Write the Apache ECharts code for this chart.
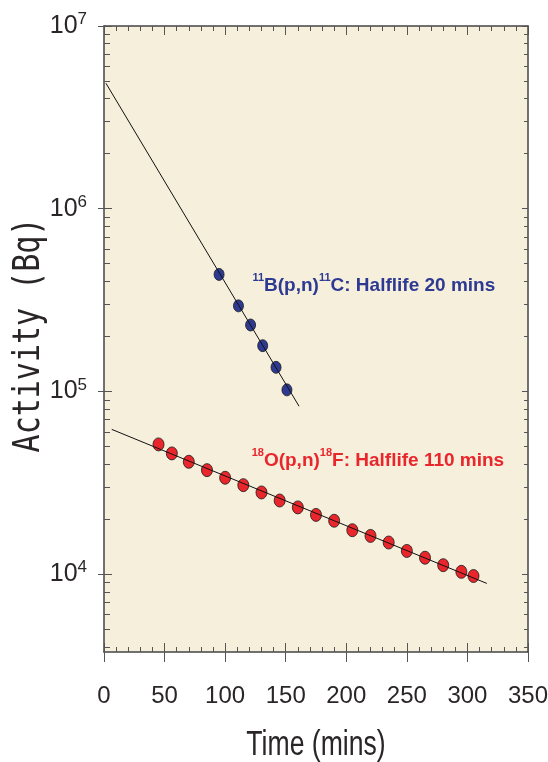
<!DOCTYPE html>
<html><head><meta charset="utf-8">
<script src="https://cdn.jsdelivr.net/npm/echarts@6/dist/echarts.min.js"></script>
<style>html,body{margin:0;padding:0;background:#fff}#c{width:548px;height:762px}</style>
</head><body><div id="c"></div>
<script>
// ---- data ----
const c11Time = [95, 111, 121, 131, 142, 151];
const c11Activity = [437000, 294000, 231000, 178000, 135500, 102000];
const f18Time = [45, 56, 70, 85, 100, 115, 130, 145, 160, 175, 190, 205, 220, 235, 250, 265, 280, 295, 305];
const f18Activity = [51300, 45800, 41200, 37100, 33700, 30700, 28000, 25300, 23200, 21100, 19600, 17400, 16200, 14900, 13400, 12300, 11200, 10300, 9770];
const c11FitTime = [1.6, 161];
const c11FitActivity = [4860000, 83000];
const f18FitTime = [6.4, 316];
const f18FitActivity = [62000, 8900];
const xTickLabels = ['0', '50', '100', '150', '200', '250', '300', '350'];
const yTickExponents = [4, 5, 6, 7];
const yMinorMultipliers = [2, 3, 4, 5, 6, 7, 8, 9];
const yMinActivity = 3750;
const yMaxActivity = 1e7;
const c11Label = ['11', 'B(p,n)', '11', 'C: Halflife 20 mins'];
const f18Label = ['18', 'O(p,n)', '18', 'F: Halflife 110 mins'];
const c11LabelAnchor = [122.5, 377000];
const f18LabelAnchor = [121.9, 41500];

const L = Math.log10;
const yMin = L(yMinActivity), yMax = L(yMaxActivity);
const yMinorTicks = [];
for (let e = 3; e < 7; e++) for (const m of yMinorMultipliers) {
  const v = L(m * Math.pow(10, e));
  if (v >= yMin && v <= yMax) yMinorTicks.push(v);
}
const pair = (xs, ys) => xs.map((x, i) => [x, L(ys[i])]);

const BLUE = '#2E3A92', RED = '#E8262B', INK = '#2a2627', AX = '#444';
const baseX = {type: 'value', min: 0, max: 350, interval: 50, splitLine: {show: false}};
const baseY = {type: 'value', min: yMin, max: yMax, splitLine: {show: false}};

const option = {
  animation: false,
  grid: {left: 104, right: 20, top: 26, bottom: 110, show: true, backgroundColor: '#F5EFDC', borderWidth: 0, containLabel: false, outerBoundsMode: 'none'},
  xAxis: [
    Object.assign({}, baseX, {position: 'bottom', axisLine: {show: true, lineStyle: {color: AX, width: 1.5}},
      axisTick: {show: true, inside: false, length: 10, lineStyle: {color: '#555'}},
      axisLabel: {show: true, margin: 32, fontSize: 24, color: INK, fontFamily: '"Liberation Sans", Arial, sans-serif',
        formatter: v => xTickLabels[Math.round(v / 50)]}}),
    Object.assign({}, baseX, {position: 'bottom', axisLine: {show: false},
      axisTick: {show: true, inside: true, length: 9, lineStyle: {color: '#555'}},
      minorTick: {show: true, splitNumber: 5, length: 5, lineStyle: {color: '#555'}}, axisLabel: {show: false}}),
    Object.assign({}, baseX, {position: 'top', axisLine: {show: true, lineStyle: {color: AX, width: 1.5}},
      axisTick: {show: true, inside: true, length: 9, lineStyle: {color: '#555'}},
      minorTick: {show: true, splitNumber: 5, length: 5, lineStyle: {color: '#555'}}, axisLabel: {show: false}})
  ],
  yAxis: [
    Object.assign({}, baseY, {position: 'left', axisLine: {show: true, lineStyle: {color: AX, width: 1.5}},
      axisTick: {show: true, inside: false, length: 6, customValues: yTickExponents, lineStyle: {color: '#555'}},
      axisLabel: {show: true, margin: 17, customValues: yTickExponents,
        formatter: v => '{b|10}{s|' + Math.round(v) + '}',
        rich: {b: {fontSize: 25, lineHeight: 30, color: INK, fontFamily: '"Liberation Sans", Arial, sans-serif'},
               s: {fontSize: 17, lineHeight: 17, verticalAlign: 'top', color: INK, fontFamily: '"Liberation Sans", Arial, sans-serif'}}}}),
    Object.assign({}, baseY, {position: 'left', axisLine: {show: false},
      axisTick: {show: true, inside: true, length: 8, customValues: yTickExponents, lineStyle: {color: '#555'}}, axisLabel: {show: false}}),
    Object.assign({}, baseY, {position: 'left', axisLine: {show: false},
      axisTick: {show: true, inside: true, length: 6, customValues: yMinorTicks, lineStyle: {color: '#555'}}, axisLabel: {show: false}}),
    Object.assign({}, baseY, {position: 'right', axisLine: {show: true, lineStyle: {color: AX, width: 1.5}},
      axisTick: {show: true, inside: true, length: 6, customValues: yTickExponents, lineStyle: {color: '#555'}}, axisLabel: {show: false}}),
    Object.assign({}, baseY, {position: 'right', axisLine: {show: false},
      axisTick: {show: true, inside: true, length: 4, customValues: yMinorTicks, lineStyle: {color: '#555'}}, axisLabel: {show: false}})
  ],
  series: [
    {type: 'scatter', data: pair(c11Time, c11Activity), symbol: 'circle', symbolSize: [10, 12],
      itemStyle: {color: BLUE, borderColor: '#1a1a1a', borderWidth: 0.8, opacity: 1}},
    {type: 'scatter', data: pair(f18Time, f18Activity), symbol: 'circle', symbolSize: [11, 13],
      itemStyle: {color: RED, borderColor: '#1a1a1a', borderWidth: 0.8, opacity: 1}},
    {type: 'line', data: pair(c11FitTime, c11FitActivity), symbol: 'none', z: 5,
      lineStyle: {color: '#111', width: 1}},
    {type: 'line', data: pair(f18FitTime, f18FitActivity), symbol: 'none', z: 5,
      lineStyle: {color: '#111', width: 1}}
  ]
};

const chart = echarts.init(document.getElementById('c'), null, {renderer: 'canvas'});
chart.setOption(option);

function richLabel(parts, color) {
  return {
    text: '{s|' + parts[0] + '}{m|' + parts[1] + '}{s|' + parts[2] + '}{m|' + parts[3] + '}',
    rich: {
      m: {fontSize: 19, fontWeight: 'bold', lineHeight: 28, fill: color, color: color, fontFamily: '"Liberation Sans", Arial, sans-serif'},
      s: {fontSize: 11, fontWeight: 'bold', lineHeight: 11, verticalAlign: 'top', fill: color, color: color, fontFamily: '"Liberation Sans", Arial, sans-serif'}
    },
    fill: color, align: 'left', verticalAlign: 'middle', textAlign: 'left', textVerticalAlign: 'middle'
  };
}
const pC = chart.convertToPixel({seriesIndex: 0}, [c11LabelAnchor[0], L(c11LabelAnchor[1])]);
const pF = chart.convertToPixel({seriesIndex: 0}, [f18LabelAnchor[0], L(f18LabelAnchor[1])]);
chart.setOption({
  graphic: [
    {type: 'text', x: pC[0], y: pC[1], z: 10, style: richLabel(c11Label, BLUE)},
    {type: 'text', x: pF[0], y: pF[1], z: 10, style: richLabel(f18Label, RED)},
    {type: 'text', x: 316, y: 745, scaleX: 0.76, z: 10,
      style: {text: 'Time (mins)', font: '35px "Liberation Sans", Arial, sans-serif', fill: INK,
        align: 'center', verticalAlign: 'middle', textAlign: 'center', textVerticalAlign: 'middle'}},
    {type: 'text', x: 29, y: 335, rotation: Math.PI / 2, scaleY: 1.25, z: 10,
      style: {text: 'Activity (Bq)', font: '30px "DejaVu Sans Mono", monospace', fill: INK,
        align: 'center', verticalAlign: 'middle', textAlign: 'center', textVerticalAlign: 'middle'}}
  ]
});
</script></body></html>
